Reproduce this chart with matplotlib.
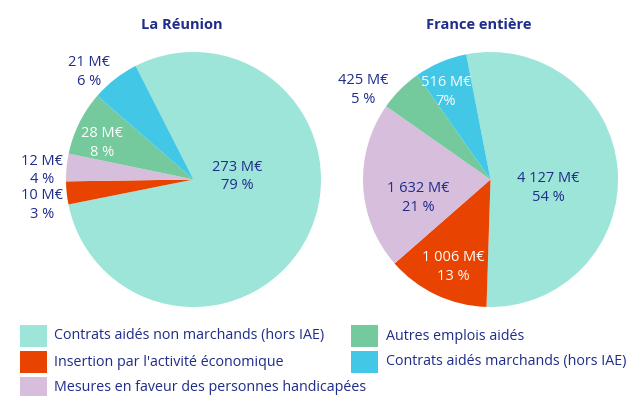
import matplotlib
matplotlib.use("Agg")
import matplotlib.pyplot as plt
from matplotlib.patches import Rectangle

plt.rcParams['font.family'] = ['Open Sans', 'DejaVu Sans']

categories = [
    "Contrats aidés non marchands (hors IAE)",
    "Insertion par l'activité économique",
    "Mesures en faveur des personnes handicapées",
    "Autres emplois aidés",
    "Contrats aidés marchands (hors IAE)",
]
colors = ["#9DE5D9", "#E84300", "#D7BEDC", "#74CA9C", "#42C8E6"]

reunion_values = [273, 10, 12, 28, 21]
reunion_pct = ["79 %", "3 %", "4 %", "8 %", "6 %"]
reunion_amounts = ["273 M€", "10 M€", "12 M€", "28 M€", "21 M€"]

france_values = [4127, 1006, 1632, 425, 516]
france_pct = ["54 %", "13 %", "21 %", "5 %", "7%"]
france_amounts = ["4 127 M€", "1 006 M€", "1 632 M€", "425 M€", "516 M€"]

DARK = "#1F2D8A"
W, H = 632, 396
fig = plt.figure(figsize=(W / 100, H / 100), dpi=100)
R = 127.5


def px(x, y):
    """Pixel position (from top-left) to figure fraction."""
    return x / W, 1 - y / H


def pie_axes(cx, cy):
    return fig.add_axes([(cx - R) / W, (H - (cy + R)) / H, 2 * R / W, 2 * R / H])


def draw_pie(ax, values, amounts, pcts, start, label_pos, label_colors, title):
    ax.pie(values, colors=colors, startangle=start, counterclock=False,
           radius=1, wedgeprops=dict(linewidth=0))
    ax.set_xlim(-1, 1)
    ax.set_ylim(-1, 1)
    ax.set_aspect("equal")
    ax.axis("off")
    for amt, pct, (dx, dy), c in zip(amounts, pcts, label_pos, label_colors):
        ax.text(dx / R, dy / R, f"{amt}\n{pct}", ha="center", va="center",
                fontsize=10.5, color=c, linespacing=1.35)
    ax.text(-12 / R, 154.5 / R, title, ha="center", va="center",
            fontsize=10.5, fontweight="bold", color=DARK)


ax1 = pie_axes(193.5, 179.5)
draw_pie(ax1, reunion_values, reunion_amounts, reunion_pct, 117,
         [(44, 3), (-151.5, -25.5), (-151.5, 9), (-91.5, 36.5), (-104.5, 107.5)],
         [DARK, DARK, DARK, "white", DARK], "La Réunion")

ax2 = pie_axes(490.5, 179.5)
draw_pie(ax2, france_values, france_amounts, france_pct, 101,
         [(57.5, -8.5), (-37.5, -87.5), (-72.5, -18.5), (-127.5, 89.5), (-44.5, 87.5)],
         [DARK, "white", DARK, DARK, "white"], "France entière")

# Legend: two columns, three rows in the first, two in the second
col_x = [20, 351]
row_y = [336, 362, 387.5]
slots = [(0, 0), (0, 1), (0, 2), (1, 0), (1, 1)]
sq_w, sq_h = 26.5, 21.5
for name, color, (col, row) in zip(categories, colors, slots):
    x0, yc = col_x[col], row_y[row]
    fx, fy = px(x0, yc + sq_h / 2)
    fig.add_artist(Rectangle((fx, fy), sq_w / W, sq_h / H, transform=fig.transFigure,
                             facecolor=color, edgecolor="none"))
    tx, ty = px(x0 + 34.5, yc)
    fig.text(tx, ty, name, ha="left", va="center", fontsize=10.3, color=DARK)

fig.savefig("out.png", dpi=100)
